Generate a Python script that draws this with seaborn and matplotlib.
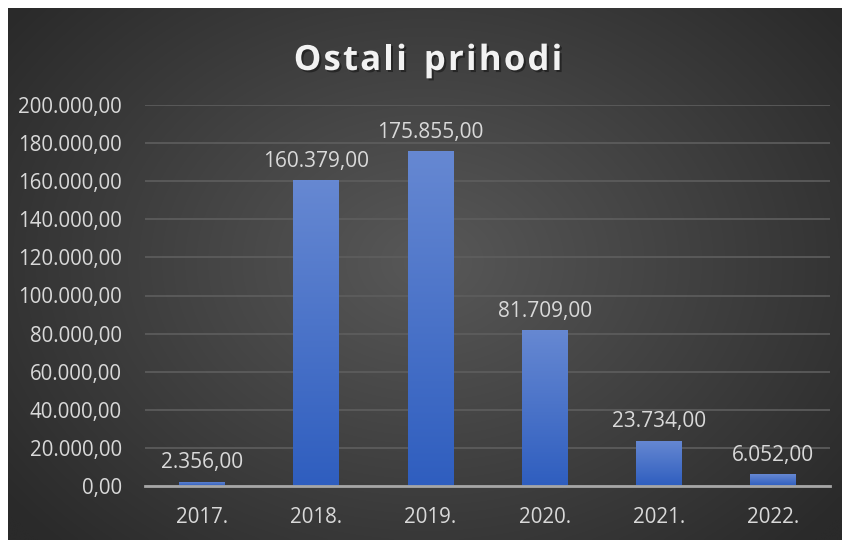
import numpy as np
import pandas as pd
import matplotlib
matplotlib.use("Agg")
import matplotlib.pyplot as plt
import matplotlib.patheffects as pe
import seaborn as sns
from matplotlib.ticker import FuncFormatter, MultipleLocator

years = ["2017.", "2018.", "2019.", "2020.", "2021.", "2022."]
values = [2356.00, 160379.00, 175855.00, 81709.00, 23734.00, 6052.00]
title = "Ostali prihodi"

def fmt(v):
    s = f"{v:,.2f}"
    return s.replace(",", "X").replace(".", ",").replace("X", ".")

sns.set_theme(style="white")
plt.rcParams['font.family'] = ['Open Sans', 'DejaVu Sans']

W, H = 842, 540
fig = plt.figure(figsize=(W / 100, H / 100), dpi=100)
fig.patch.set_facecolor("white")

# background panel with radial gradient
bg = fig.add_axes([8 / W, 0, 1 - 8 / W, 532 / H])
bg.set_axis_off()
yy, xx = np.mgrid[0:200, 0:300]
cx, cy = 150, 95
d = np.sqrt(((xx - cx) / 190.0) ** 2 + ((yy - cy) / 150.0) ** 2)
d = np.clip(d, 0, 1)
c0 = np.array([0x58, 0x58, 0x58]) / 255
c1 = np.array([0x2a, 0x2a, 0x2a]) / 255
img = c0[None, None, :] * (1 - d[..., None]) + c1[None, None, :] * d[..., None]
bg.imshow(img, aspect="auto", extent=[0, 1, 0, 1], interpolation="bicubic")
bg.set_xlim(0, 1)
bg.set_ylim(0, 1)

ax = fig.add_axes([145 / W, 54 / H, (830 - 145) / W, (486 - 105) / H])
ax.patch.set_alpha(0)

df = pd.DataFrame({"year": years, "value": values})
sns.barplot(data=df, x="year", y="value", ax=ax, color="#4472c4", width=0.4,
            saturation=1)

ax.set_ylim(0, 200000)
ax.set_xlim(-0.5, len(years) - 0.5)
ax.yaxis.set_major_locator(MultipleLocator(20000))
ax.yaxis.set_major_formatter(FuncFormatter(lambda v, p: fmt(v)))
ax.grid(axis="y", color="#5e5e5e", linewidth=1.2)
ax.set_axisbelow(True)
for s in ["top", "right", "left"]:
    ax.spines[s].set_visible(False)
ax.spines["bottom"].set_color("#a6a6a6")
ax.spines["bottom"].set_linewidth(2)
ax.spines["bottom"].set_zorder(5)
ax.tick_params(axis="both", colors="#d9d9d9", labelsize=14.8, length=0)
ax.tick_params(axis="x", pad=15)
ax.tick_params(axis="y", pad=16.5)
ax.set_xlabel("")
ax.set_ylabel("")

# gradient fill for bars
grad = np.linspace(0, 1, 100)[:, None]
top = np.array([0x66, 0x88, 0xd2]) / 255
bot = np.array([0x2f, 0x5e, 0xbf]) / 255
gimg = top[None, None, :] * (1 - grad[..., None]) + bot[None, None, :] * grad[..., None]
for patch, v in zip(ax.patches, values):
    x0, y0 = patch.get_x(), patch.get_y()
    w, h = patch.get_width(), patch.get_height()
    patch.set_facecolor("none")
    patch.set_edgecolor("none")
    im = ax.imshow(gimg, extent=[x0, x0 + w, y0, y0 + h], aspect="auto",
                   zorder=3, interpolation="bilinear")
    im.set_clip_path(patch)
    ax.annotate(fmt(v), (x0 + w / 2, y0 + h), xytext=(0, 6),
                textcoords="offset points", ha="center", va="bottom",
                color="#d9d9d9", fontsize=15)
ax.set_xlim(-0.5, len(years) - 0.5)
ax.set_ylim(0, 200000)

# title with letter spacing
renderer = fig.canvas.get_renderer()
tkw = dict(color="#f2f2f2", fontsize=25, fontweight="bold", va="center", ha="left",
           path_effects=[pe.withSimplePatchShadow(offset=(1.5, -1.5), shadow_rgbFace="black", alpha=0.4)])
track = 2.2
widths = []
for ch in title:
    t = fig.text(0, 0, ch if ch != " " else "n", **tkw)
    bb = t.get_window_extent(renderer)
    widths.append(bb.width * (0.55 if ch == " " else 1.0))
    t.remove()
total = sum(widths) + track * (len(title) - 1)
x = 428 - total / 2
for ch, wd in zip(title, widths):
    if ch != " ":
        fig.text(x / W, 1 - 61 / H, ch, **tkw)
    x += wd + track

fig.savefig("out.png", dpi=100)
